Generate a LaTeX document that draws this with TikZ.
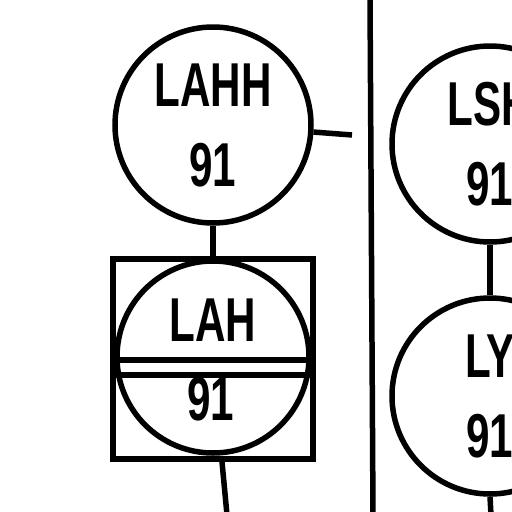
\documentclass[tikz,border=0pt]{standalone}
\usepackage{fontspec}
\usepackage{tikz}
\usetikzlibrary{positioning, calc}
\newfontfamily\tagfont{Liberation Sans}[FakeStretch=0.68]

\tikzset{
  bubble/.style={circle, draw, line width=5.5pt, minimum size=196pt, inner sep=0pt,
                 align=center, font=\tagfont\bfseries\fontsize{62}{80}\selectfont},
  tagtext/.style={inner sep=0pt, font=\tagfont\bfseries\fontsize{62}{80}\selectfont}
}

\begin{document}
\begin{tikzpicture}[x=1pt, y=-1pt, line width=5.5pt]
    \useasboundingbox (0,0) rectangle (512,512);
    \clip (0,0) rectangle (512,512);

    % instrument bubbles
    \node[bubble] (lahh) at (213,125) {LAHH\\91};
    \node[bubble] (lsh)  at (490,144) {LSH\\91};
    \node[bubble] (ly)   at (490,396) {LY\\91};

    % shared display/alarm in box
    \node[draw, rectangle, minimum size=200pt, inner sep=0pt] (lahbox) at (213,359) {};
    \node[circle, draw, minimum size=192pt, inner sep=0pt] (lahring) at (213,357) {};
    \node[tagtext] (lahname) at (213,320) {LAH};
    \node[tagtext, anchor=base] (lahnum) at (211,420) {91};
    \draw ([yshift=-1pt]lahbox.west) -- ([yshift=-1pt]lahbox.east);
    \draw ([yshift=-16pt]lahbox.west) -- ([yshift=-16pt]lahbox.east);

    % free ends
    \coordinate (stubR) at (352,135);
    \coordinate (sepTop) at (370,-3);
    \coordinate (sepBot) at (373,515);
    \coordinate (tailB) at (227,515);
    \coordinate (tailY) at (491,515);

    % connectors
    \draw (lahh.-4) -- (stubR);
    \draw (sepTop) -- (sepBot);
    \draw (lahh.south) -- (lahbox.north);
    \draw ([xshift=9pt]lahbox.south) -- (tailB);
    \draw (lsh.south) -- (ly.north);
    \draw (ly.south) -- (tailY);
  \end{tikzpicture}
\end{document}
